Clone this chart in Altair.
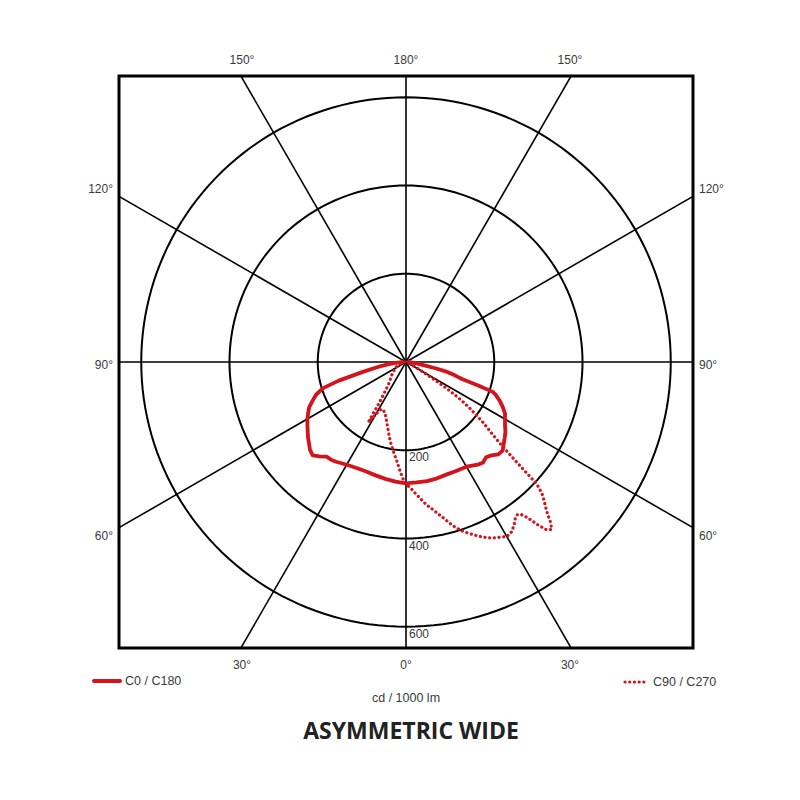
import altair as alt
import pandas as pd

# ---------------- data (cd / 1000 lm) ----------------
c0_gamma = [0, 5, 10, 15, 20, 25, 30, 35, 37.5, 40, 42.5, 45, 47.5, 50, 52.5, 55, 57.5, 60, 62.5, 65,
            67.5, 70, 71, 72, 73, 74, 75, 76.5, 78, 80, 82.5, 85, 87.5, 90]
c0_cd = [275, 274, 274, 273, 271, 272, 274, 284, 287, 282, 287, 296, 297, 289, 282, 275, 266, 259, 253, 242,
         230, 216, 208, 172, 134, 122, 112, 96, 68, 40, 24, 15, 9, 5]

c180_gamma = [0, 5, 10, 15, 20, 25, 30, 32.5, 35, 37.5, 40, 42.5, 45, 47.5, 50, 52.5, 55, 57.5, 60, 62.5,
              65, 67.5, 70, 72.5, 74.5, 77, 80, 82.5, 85, 87.5, 90]
c180_cd = [275, 272, 269, 266, 264, 265, 269, 272, 276, 279, 280, 290, 299, 295, 287, 280, 272, 265, 258, 250,
           242, 229, 217, 197, 158, 102, 65, 42, 27, 14, 8]

c90_gamma = [0, 2, 4, 6, 8, 10, 12, 14, 16, 18, 20, 22, 24, 26, 28, 30, 32, 34, 35, 36, 37, 38, 39, 40, 41,
             42, 43, 44, 45, 46, 47, 48, 49, 50, 52, 54, 55, 56, 57, 58, 59, 60, 62.5, 65, 70, 80, 90]
c90_cd = [277, 285, 298, 311, 326, 338, 352, 368, 386, 401, 413, 424, 435, 444, 450, 457, 453, 440, 432, 428,
          432, 448, 475, 497, 503, 490, 470, 455, 442, 428, 405, 330, 285, 258, 220, 180, 160, 135, 110, 75,
          52, 37, 22, 14, 8, 4, 2]

c270_gamma = [0, 1, 3, 5, 8, 11, 14, 18, 22, 25, 27.5, 29, 30.5, 32, 32.5, 33, 34.5, 36, 37.5, 42, 47.5,
              55, 63, 70, 80, 90]
c270_cd = [277, 270, 249, 228, 205, 185, 164, 142, 126, 121, 120, 127, 143, 161, 139, 117, 91, 78, 66, 53, 44,
           33, 24, 15, 8, 3]

grid_radii = [200, 400, 600]
grid_radius_labels = ["200", "400", "600"]
radial_angles = [0, 30, 60, 90, 120, 150, 180, 210, 240, 270, 300, 330]

top_labels = ["150°", "180°", "150°"]
bottom_labels = ["30°", "0°", "30°"]
side_labels = ["120°", "90°", "60°"]
series_names = ["C0 / C180", "C90 / C270"]
unit_label = "cd / 1000 lm"
title_text = "ASYMMETRIC WIDE"

# ---------------- geometry / style ----------------
S = 0.44127            # px per cd unit
PW, PH = 574, 572      # plot area
RX, RY = 287 / S, 286 / S
RED = "#d3141c"
TXT = "#3a3a3a"
FONT = "Liberation Sans"

xs = alt.Scale(domain=[-RX, RX])
ys = alt.Scale(domain=[-RY, RY])


def px_x(p):
    return (p - 406) / S


def px_y(p):
    return (362 - p) / S


X = lambda f: alt.X(f, type="quantitative", scale=xs, axis=None)
Y = lambda f: alt.Y(f, type="quantitative", scale=ys, axis=None)

# curves table
rows = []
for g, v in zip(c0_gamma, c0_cd):
    rows.append(dict(series=series_names[0], side=1, gamma=g, cd=v, t=g))
for g, v in zip(c180_gamma, c180_cd):
    rows.append(dict(series=series_names[0], side=-1, gamma=g, cd=v, t=-g))
for g, v in zip(c90_gamma, c90_cd):
    rows.append(dict(series=series_names[1], side=1, gamma=g, cd=v, t=g))
for g, v in zip(c270_gamma, c270_cd):
    rows.append(dict(series=series_names[1], side=-1, gamma=g, cd=v, t=-g))
curves = pd.DataFrame(rows)

base_curve = alt.Chart(curves).transform_calculate(
    x="datum.side*datum.cd*sin(datum.gamma*PI/180)",
    y="-datum.cd*cos(datum.gamma*PI/180)",
)

solid = base_curve.transform_filter(alt.datum.series == series_names[0]).mark_line(
    color=RED, strokeWidth=3.8, strokeJoin="round", strokeCap="round"
).encode(x=X("x"), y=Y("y"), order=alt.Order("t:Q"))

dotted = base_curve.transform_filter(alt.datum.series == series_names[1]).mark_line(
    color=RED, strokeWidth=3.2, strokeDash=[0.1, 4.6], strokeCap="round", strokeJoin="round"
).encode(x=X("x"), y=Y("y"), order=alt.Order("t:Q"))

# grid circles
circ_rows = [dict(r=r, a=a) for r in grid_radii for a in range(0, 361, 2)]
circles = alt.Chart(pd.DataFrame(circ_rows)).transform_calculate(
    x="datum.r*sin(datum.a*PI/180)", y="datum.r*cos(datum.a*PI/180)"
).mark_line(color="black", strokeWidth=2, clip=True).encode(
    x=X("x"), y=Y("y"), detail="r:N", order=alt.Order("a:Q")
)

# radial lines
radials = alt.Chart(pd.DataFrame({"a": radial_angles})).transform_calculate(
    x0="0", y0="0",
    x2="2000*sin(datum.a*PI/180)", y2="2000*cos(datum.a*PI/180)"
).mark_rule(color="black", strokeWidth=1.6, clip=True).encode(
    x=X("x0"), y=Y("y0"), x2="x2:Q", y2="y2:Q"
)

# angle labels
tb = pd.DataFrame({
    "label": top_labels + bottom_labels,
    "x": [px_x(242), px_x(406), px_x(570)] * 2,
    "y": [px_y(60)] * 3 + [px_y(665)] * 3,
})
tb_text = alt.Chart(tb).mark_text(font=FONT, fontSize=12, color=TXT, align="center", baseline="middle").encode(
    x=X("x"), y=Y("y"), text="label:N")

side_y = [px_y(189), px_y(365), px_y(536)]
left_text = alt.Chart(pd.DataFrame({"label": side_labels, "x": [px_x(113)] * 3, "y": side_y})).mark_text(
    font=FONT, fontSize=12, color=TXT, align="right", baseline="middle").encode(x=X("x"), y=Y("y"), text="label:N")
right_text = alt.Chart(pd.DataFrame({"label": side_labels, "x": [px_x(699)] * 3, "y": side_y})).mark_text(
    font=FONT, fontSize=12, color=TXT, align="left", baseline="middle").encode(x=X("x"), y=Y("y"), text="label:N")

rad_text = alt.Chart(pd.DataFrame({"label": grid_radius_labels, "r": grid_radii})).transform_calculate(
    x=str(3 / S), y="-datum.r-" + str(7 / S)
).mark_text(font=FONT, fontSize=12, color=TXT, align="left", baseline="middle").encode(
    x=X("x"), y=Y("y"), text="label:N")

# legend
leg_solid = alt.Chart(pd.DataFrame({"x": [px_x(94)], "x2": [px_x(120)], "y": [px_y(681)]})).mark_rule(
    color=RED, strokeWidth=4, strokeCap="round").encode(x=X("x"), x2="x2:Q", y=Y("y"))
leg_dot = alt.Chart(pd.DataFrame({"x": [px_x(625)], "x2": [px_x(647)], "y": [px_y(682)]})).mark_rule(
    color=RED, strokeWidth=3.2, strokeDash=[0.1, 4.6], strokeCap="round").encode(x=X("x"), x2="x2:Q", y=Y("y"))
leg_text = alt.Chart(pd.DataFrame({
    "label": series_names,
    "x": [px_x(125), px_x(653)],
    "y": [px_y(681), px_y(682)],
})).mark_text(font=FONT, fontSize=12.5, color=TXT, align="left", baseline="middle").encode(
    x=X("x"), y=Y("y"), text="label:N")

unit_text = alt.Chart(pd.DataFrame({"label": [unit_label], "x": [0.0], "y": [px_y(698)]})).mark_text(
    font=FONT, fontSize=12.5, color=TXT, align="center", baseline="middle").encode(
    x=X("x"), y=Y("y"), text="label:N")

title = alt.Chart(pd.DataFrame({"label": [title_text], "x": [px_x(411)], "y": [px_y(732)]})).mark_text(
    font="Open Sans", fontSize=23, fontWeight="bold", color="#222222", align="center", baseline="middle").encode(
    x=X("x"), y=Y("y"), text="label:N")

chart = alt.layer(
    radials, circles, solid, dotted, tb_text, left_text, right_text, rad_text,
    leg_solid, leg_dot, leg_text, unit_text, title
).properties(
    width=PW, height=PH,
    background="white",
    autosize=alt.AutoSizeParams(type="none"),
    padding={"left": 111, "top": 68, "right": 99, "bottom": 144},
).configure_view(stroke="black", strokeWidth=3)

chart.save("out.html", embed_options={"renderer": "svg", "actions": False})
